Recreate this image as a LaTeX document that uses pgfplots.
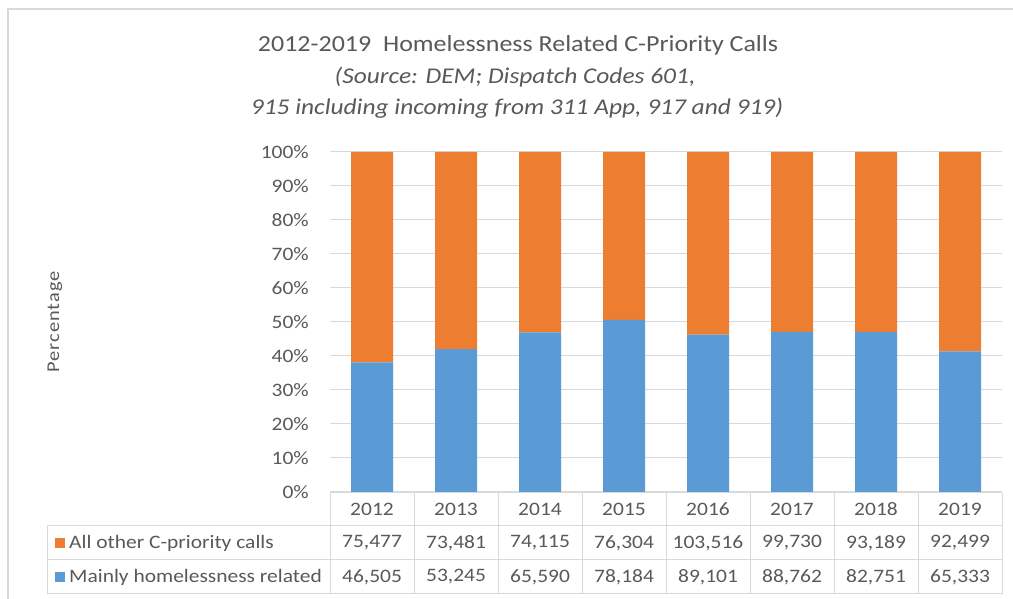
\documentclass[border=0pt]{standalone}
\usepackage{pgfplots}
\pgfplotsset{compat=1.18}
\usepackage{fontspec}
\setmainfont{Carlito}[FakeStretch=1.13]
\definecolor{orng}{HTML}{ED7D31}
\definecolor{blu}{HTML}{5B9BD5}
\definecolor{txt}{HTML}{595959}
\definecolor{grd}{HTML}{D9D9D9}
\begin{document}
\begin{tikzpicture}[x=1pt,y=1pt]
\useasboundingbox (0,0) rectangle (1013,599);
\fill[white] (0,0) rectangle (1013,599);
\draw[grd, line width=1.5pt] (8,-5) -- (8,590) -- (1020,590);
\node[txt, font=\fontsize{23}{26}\selectfont] at (518,554) {2012-2019\ \ Homelessness Related C-Priority Calls};
\node[txt, font=\fontsize{22.5}{26}\selectfont\itshape] at (515,522) {(Source: DEM; Dispatch Codes 601,};
\node[txt, font=\fontsize{22.5}{26}\selectfont\itshape] at (517,491) {915 including incoming from 311 App, 917 and 919)};
\node[txt, rotate=90, font=\fontsize{18}{18}\selectfont\addfontfeature{LetterSpace=6}] at (55,277) {Percentage};
\begin{axis}[
  at={(330pt,107pt)}, anchor=south west,
  scale only axis, width=672pt, height=340pt,
  xmin=-0.5, xmax=7.5, ymin=0, ymax=100,
  ybar stacked, bar width=42pt,
  axis line style={draw=none},
  ytick={0,10,...,100},
  yticklabel={\pgfmathprintnumber{\tick}\%},
  /pgf/number format/assume math mode=true,
  ymajorgrids, grid style={grd, line width=1pt},
  major tick length=0pt,
  xtick={0,...,7},
  xticklabels={2012,2013,2014,2015,2016,2017,2018,2019},
  xticklabel style={font=\fontsize{19}{19}\selectfont, text=txt, anchor=center, yshift=-17.5pt},
  yticklabel style={font=\fontsize{19}{19}\selectfont, text=txt, anchor=east, inner sep=0pt, xshift=-21pt},
  clip=false,
]
\addplot[fill=blu, draw=none] coordinates {(0,38.12) (1,42.02) (2,46.95) (3,50.61) (4,46.26) (5,47.09) (6,47.03) (7,41.39)};
\addplot[fill=orng, draw=none] coordinates {(0,61.88) (1,57.98) (2,53.05) (3,49.39) (4,53.74) (5,52.91) (6,52.97) (7,58.61)};
\end{axis}
% data table
\draw[grd, line width=1pt] (330,106) -- (1002,106);
\draw[grd, line width=1pt] (47,73) -- (1002,73);
\draw[grd, line width=1pt] (47,39) -- (1002,39);
\draw[grd, line width=1pt] (47,5) -- (1002,5);
\draw[grd, line width=1pt] (47,73) -- (47,5);
\foreach \k in {0,...,8} {\draw[grd, line width=1pt] (330+84*\k,106) -- (330+84*\k,5);}
\fill[orng] (55,51) rectangle (65,61);
\fill[blu] (55,17) rectangle (65,27);
\begin{scope}[every node/.style={txt, font=\fontsize{19}{19}\selectfont}]
\node[anchor=west, inner sep=0pt] at (69,56) {All other C-priority calls};
\node[anchor=west, inner sep=0pt] at (69,22) {Mainly homelessness related};
\foreach \v [count=\i from 0] in {75{,}477, 73{,}481, 74{,}115, 76{,}304, 103{,}516, 99{,}730, 93{,}189, 92{,}499}
  {\node at (372+84*\i,56) {\v};}
\foreach \v [count=\i from 0] in {46{,}505, 53{,}245, 65{,}590, 78{,}184, 89{,}101, 88{,}762, 82{,}751, 65{,}333}
  {\node at (372+84*\i,22) {\v};}
\end{scope}
\end{tikzpicture}
\end{document}
